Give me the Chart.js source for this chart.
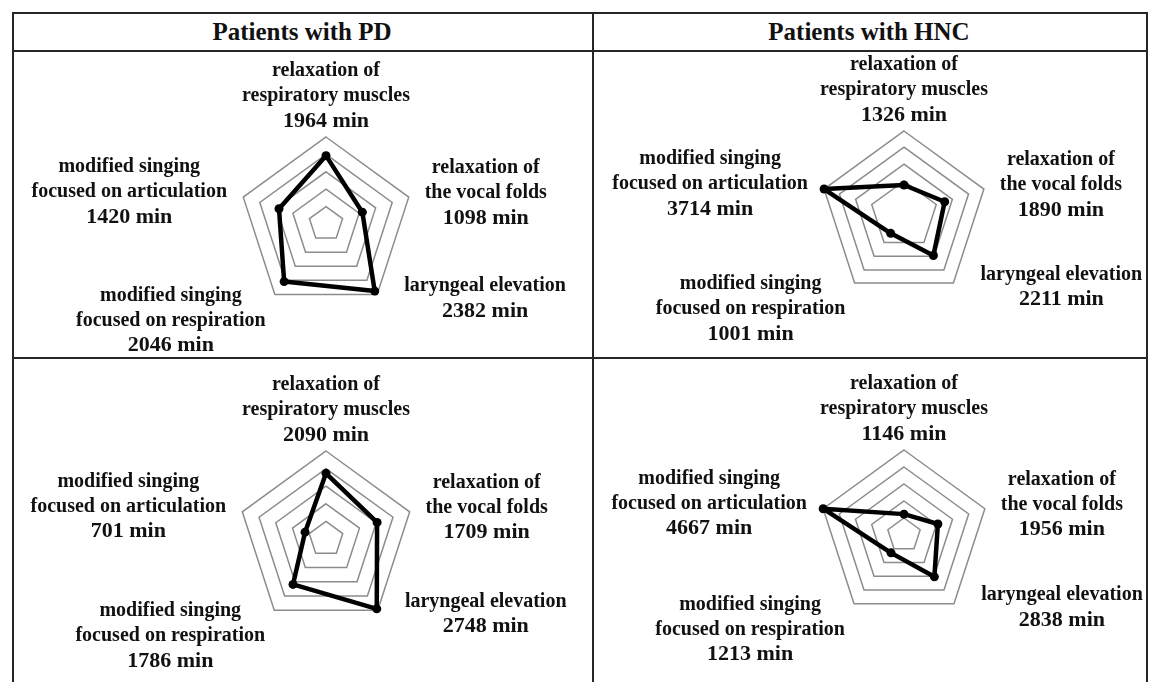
<!DOCTYPE html>
<html><head><meta charset="utf-8">
<script src="https://cdn.jsdelivr.net/npm/chart.js@4.4.1/dist/chart.umd.min.js"></script>
<style>
html,body{margin:0;padding:0;background:#fff;}
#page{position:relative;width:1158px;height:682px;overflow:hidden;font-family:"Liberation Serif","Times New Roman",serif;}
.ln{position:absolute;background:#262626;z-index:2;}
.hdr{position:absolute;top:13px;height:37px;line-height:37px;text-align:center;font-weight:bold;font-size:25px;color:#111;}
canvas{position:absolute;z-index:1;}
</style></head><body>
<div id="page"></div>
<script>
// ---- data ----
const headers = ["Patients with PD", "Patients with HNC"];
const axisNames = [
  ["relaxation of", "respiratory muscles"],
  ["relaxation of", "the vocal folds"],
  ["laryngeal elevation"],
  ["modified singing", "focused on respiration"],
  ["modified singing", "focused on articulation"]
];
const pdRow1 = [1964, 1098, 2382, 2046, 1420];
const hncRow1 = [1326, 1890, 2211, 1001, 3714];
const pdRow2 = [2090, 1709, 2748, 1786, 701];
const hncRow2 = [1146, 1956, 2838, 1213, 4667];
const pdRow1Ticks = [0, 500, 1000, 1500, 2000, 2500];
const hncRow1Ticks = [0, 1500, 2250, 3000, 3714];
const pdRow2Ticks = [0, 560, 1120, 1680, 2240, 2800];
const hncRow2Ticks = [0, 933, 1867, 2800, 3734, 4667];

// ---- table layout ----
const T = {left: 12, top: 12, right: 1146, bottom: 682, midX: 592, headY: 50, midY: 357};
const page = document.getElementById('page');
function line(x, y, w, h) {
  const d = document.createElement('div'); d.className = 'ln';
  d.style.left = x + 'px'; d.style.top = y + 'px'; d.style.width = w + 'px'; d.style.height = h + 'px';
  page.appendChild(d);
}
line(T.left, T.top, T.right - T.left + 2, 2);
line(T.left, T.headY, T.right - T.left + 2, 2);
line(T.left, T.midY, T.right - T.left + 2, 2);
line(T.left, T.top, 2, T.bottom - T.top);
line(T.midX, T.top, 2, T.bottom - T.top);
line(T.right, T.top, 2, T.bottom - T.top);
[[T.left, T.midX], [T.midX, T.right]].forEach((c, i) => {
  const h = document.createElement('div'); h.className = 'hdr';
  h.style.left = c[0] + 'px'; h.style.width = (c[1] - c[0]) + 'px';
  h.textContent = headers[i];
  page.appendChild(h);
});

// label placement relative to each axis' outer vertex
const PLACES = [
  {dx: 0, dy: -16, top: true},
  {dx: 77, dy: -4},
  {dx: 108, dy: 4},
  {dx: -104, dy: 26},
  {dx: -114, dy: -5}
];
const LINE = 25;
const FONT = '"Liberation Serif", "Times New Roman", serif';

const labelPlugin = {
  id: 'axisLabels',
  afterDraw(chart) {
    const s = chart.scales.r, ctx = chart.ctx;
    const vals = chart.data.datasets[0].data;
    ctx.save();
    ctx.fillStyle = '#111'; ctx.textAlign = 'center'; ctx.textBaseline = 'middle';
    axisNames.forEach((name, i) => {
      const p = s.getPointPositionForValue(i, s.max);
      const lines = name.concat([vals[i] + ' min']);
      const pl = PLACES[i], n = lines.length, cx = p.x + pl.dx;
      lines.forEach((t, k) => {
        const y = pl.top ? p.y + pl.dy - (n - 1 - k) * LINE : p.y + pl.dy + (k - (n - 1) / 2) * LINE;
        ctx.font = (k === n - 1 ? 'bold 22px ' : 'bold 20px ') + FONT;
        ctx.fillText(t, cx, y);
      });
    });
    ctx.restore();
  }
};

const panels = [
  {values: pdRow1, ticks: pdRow1Ticks, rect: [T.left + 2, T.headY + 2, T.midX - T.left - 2, T.midY - T.headY - 2], c: [326, 224], r: 87},
  {values: hncRow1, ticks: hncRow1Ticks, rect: [T.midX + 2, T.headY + 2, T.right - T.midX - 2, T.midY - T.headY - 2], c: [904, 215], r: 84},
  {values: pdRow2, ticks: pdRow2Ticks, rect: [T.left + 2, T.midY + 2, T.midX - T.left - 2, T.bottom - T.midY - 2], c: [326, 539], r: 88},
  {values: hncRow2, ticks: hncRow2Ticks, rect: [T.midX + 2, T.midY + 2, T.right - T.midX - 2, T.bottom - T.midY - 2], c: [904, 535], r: 85}
];

panels.forEach(pn => {
  const [x0, y0, W, H] = pn.rect;
  const cv = document.createElement('canvas');
  cv.width = W; cv.height = H;
  cv.style.left = x0 + 'px'; cv.style.top = y0 + 'px';
  cv.style.width = W + 'px'; cv.style.height = H + 'px';
  page.appendChild(cv);
  const lx = pn.c[0] - x0, ly = pn.c[1] - y0, R = pn.r;
  const tickArr = pn.ticks;
  new Chart(cv.getContext('2d'), {
    type: 'radar',
    data: {
      labels: axisNames.map(a => a.join(' ')),
      datasets: [{
        data: pn.values,
        borderColor: '#000', borderWidth: 4.5, borderJoinStyle: 'round',
        pointRadius: 4.5, pointBackgroundColor: '#000', pointBorderWidth: 0,
        fill: false, tension: 0
      }]
    },
    options: {
      responsive: false, animation: false, devicePixelRatio: 1,
      layout: {padding: {left: lx - R, right: W - lx - R, top: ly - R, bottom: H - ly - R}},
      plugins: {legend: {display: false}, tooltip: {enabled: false}},
      scales: {
        r: {
          min: tickArr[0], max: tickArr[tickArr.length - 1],
          afterBuildTicks: sc => { sc.ticks = tickArr.map(v => ({value: v})); },
          ticks: {display: false},
          grid: {color: '#8c8c8c', lineWidth: 1.5},
          angleLines: {display: false},
          pointLabels: {display: false}
        }
      }
    },
    plugins: [labelPlugin]
  });
});
</script>
</body></html>
